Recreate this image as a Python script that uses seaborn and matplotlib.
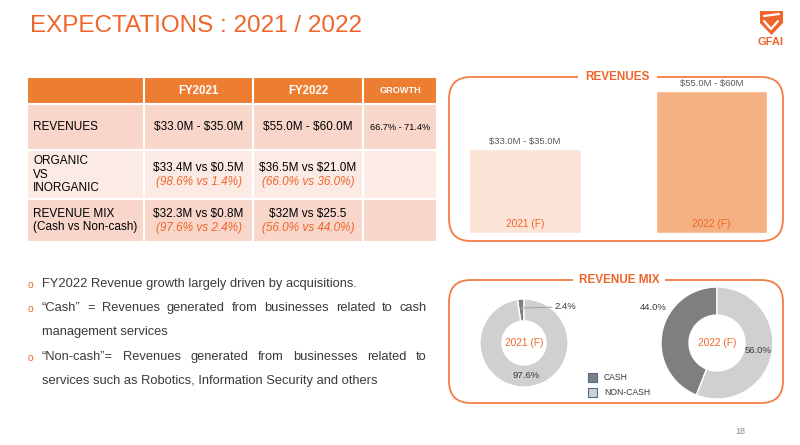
import matplotlib
matplotlib.use("Agg")
import matplotlib.pyplot as plt
import numpy as np
import pandas as pd
import seaborn as sns
from matplotlib.patches import FancyBboxPatch, Rectangle, Polygon

# ---- data ----
years = ["2021 (F)", "2022 (F)"]
rev_low = [33.0, 55.0]
rev_high = [35.0, 60.0]
rev_labels = ["$33.0M - $35.0M", "$55.0M - $60M"]

mix_labels = ["CASH", "NON-CASH"]
cash_pct = [2.4, 44.0]
noncash_pct = [97.6, 56.0]

table_head = ["", "FY2021", "FY2022", "GROWTH"]
row_labels = ["REVENUES", "ORGANIC\nVS\nINORGANIC", "REVENUE MIX\n(Cash vs Non-cash)"]
fy2021_vals = ["$33.0M - $35.0M", "$33.4M vs $0.5M", "$32.3M vs $0.8M"]
fy2021_pcts = ["", "(98.6% vs 1.4%)", "(97.6% vs 2.4%)"]
fy2022_vals = ["$55.0M - $60.0M", "$36.5M vs $21.0M", "$32M vs $25.5"]
fy2022_pcts = ["", "(66.0% vs 36.0%)", "(56.0% vs 44.0%)"]
growth_vals = ["66.7% - 71.4%", "", ""]

bullet_lines = [
    ("FY2022 Revenue growth largely driven by acquisitions.", True, False),
    ("\u201cCash\u201d = Revenues generated from businesses related to cash", True, True),
    ("management services", False, False),
    ("\u201cNon-cash\u201d= Revenues generated from businesses related to", True, True),
    ("services such as Robotics, Information Security and others", False, False),
]

# ---- style ----
ORANGE = "#F0652B"
BORDER = "#F47C42"
HEAD = "#ED7D31"
BAND_DARK = "#F8D6CA"
BAND_LIGHT = "#FCEBE5"
TEXT = "#3A3A3A"
bar_colors = ["#FBE3D6", "#F4B183"]
mix_colors = ["#7F7F7F", "#D0D0D0"]

sns.set_theme(style="white")
plt.rcParams["font.family"] = ["Liberation Sans", "DejaVu Sans"]
plt.rcParams["text.parse_math"] = False

W, H = 800, 445
fig = plt.figure(figsize=(W / 100, H / 100), dpi=100)
fig.patch.set_facecolor("white")

# background axes in pixel units
bg = fig.add_axes([0, 0, 1, 1])
bg.set_xlim(0, W)
bg.set_ylim(H, 0)
bg.axis("off")


def px_axes(x0, y0, w, h):
    a = fig.add_axes([x0 / W, 1 - (y0 + h) / H, w / W, h / H])
    a.patch.set_alpha(0)
    return a


# title and logo
bg.text(30, 26, "EXPECTATIONS : 2021 / 2022", color=ORANGE, fontsize=17.5,
        va="center", ha="left")
bg.add_patch(Polygon([(760, 11), (783, 11), (783, 23), (771.5, 35), (760, 23)],
                     closed=True, fc=ORANGE, ec="none"))
bg.plot([764, 779], [16, 14], color="white", lw=1.6)
bg.plot([764, 771, 778], [21, 29, 21], color="white", lw=1.6)
bg.text(771, 42, "GFAI", color=ORANGE, fontsize=8, fontweight="bold",
        ha="center", va="center")

# ---- table ----
col_edges = [27, 144, 253, 363, 437]
row_edges = [77, 104, 150, 199, 242]
row_fill = [HEAD, BAND_DARK, BAND_LIGHT, BAND_DARK]
for r in range(4):
    for c in range(4):
        x0, x1 = col_edges[c], col_edges[c + 1]
        y0, y1 = row_edges[r], row_edges[r + 1]
        bg.add_patch(Rectangle((x0, y0), x1 - x0, y1 - y0, fc=row_fill[r],
                               ec="white", lw=1.5))

for c, lab in enumerate(table_head):
    cx = (col_edges[c] + col_edges[c + 1]) / 2
    fs = 6.6 if lab == "GROWTH" else 8.3
    bg.text(cx, 90.5, lab, color="white", fontsize=fs, fontweight="bold",
            ha="center", va="center")

for r in range(3):
    cy = (row_edges[r + 1] + row_edges[r + 2]) / 2
    bg.text(33, cy, row_labels[r], color="black", fontsize=8.5, ha="left",
            va="center", linespacing=1.2)
    for c, vals, pcts in [(1, fy2021_vals, fy2021_pcts), (2, fy2022_vals, fy2022_pcts)]:
        cx = (col_edges[c] + col_edges[c + 1]) / 2
        if pcts[r]:
            bg.text(cx, cy - 7, vals[r], color="black", fontsize=8.5,
                    ha="center", va="center")
            bg.text(cx, cy + 7, pcts[r], color=ORANGE, fontsize=8.5,
                    style="italic", ha="center", va="center")
        else:
            bg.text(cx, cy, vals[r], color="black", fontsize=8.5,
                    ha="center", va="center")
    if growth_vals[r]:
        cx = (col_edges[3] + col_edges[4]) / 2
        bg.text(cx, cy, growth_vals[r], color="black", fontsize=6.6,
                ha="center", va="center")

# ---- bullets (justified lines) ----
renderer = fig.canvas.get_renderer()
line_y = [284, 308, 332, 357, 381]
for (line, has_bullet, justify), y in zip(bullet_lines, line_y):
    if has_bullet:
        bg.text(30, y + 1, "o", color=ORANGE, fontsize=7.5, ha="center", va="center")
    if not justify:
        bg.text(42, y, line, color=TEXT, fontsize=9.3, ha="left", va="center")
        continue
    words = line.split(" ")
    texts = [bg.text(0, y, w, color=TEXT, fontsize=9.3, ha="left", va="center")
             for w in words]
    widths = [t.get_window_extent(renderer).width for t in texts]
    gap = (427 - 42 - sum(widths)) / (len(words) - 1)
    x = 42
    for t, w in zip(texts, widths):
        t.set_x(x)
        x += w + gap

# ---- boxes ----
for (x0, y0, x1, y1), title, (g0, g1) in [
    ((449, 77, 783, 241), "REVENUES", (578, 657)),
    ((449, 280, 783, 403), "REVENUE MIX", (573, 665)),
]:
    bg.add_patch(FancyBboxPatch((x0, y0), x1 - x0, y1 - y0,
                                boxstyle="round,pad=0,rounding_size=22",
                                fc="none", ec=BORDER, lw=1.3))
    bg.add_patch(Rectangle((g0, y0 - 3), g1 - g0, 6, fc="white", ec="none", zorder=2))
    bg.text((g0 + g1) / 2, y0, title, color=ORANGE, fontsize=8.5,
            fontweight="bold", ha="center", va="center", zorder=3)

# ---- revenue bars ----
df = pd.DataFrame({"year": years, "low": rev_low, "high": rev_high})
df["mid"] = (df["low"] + df["high"]) / 2
axb = px_axes(469, 233 - 153.1, 298.4, 153.1)
sns.barplot(data=df, x="year", y="mid", hue="year", palette=bar_colors,
            width=0.6, saturation=1, legend=False, ax=axb)
axb.set_xlim(-0.3, 1.3)
axb.set_ylim(0, 62)
for cont, lab in zip(axb.containers, rev_labels):
    axb.bar_label(cont, labels=[lab], padding=2, fontsize=6.8, color="#595959")
for i, yr in enumerate(years):
    axb.annotate(yr, (i, 0), xytext=(0, 3), textcoords="offset points",
                 ha="center", va="bottom", color=ORANGE, fontsize=7.3)
axb.set_xticks([])
axb.set_yticks([])
axb.set_xlabel("")
axb.set_ylabel("")
sns.despine(ax=axb, left=True, bottom=True)

# ---- revenue mix donuts ----
donuts = [(524, 343, 44), (717, 343, 56)]
for i, (cx, cy, rad) in enumerate(donuts):
    axp = px_axes(cx - rad, cy - rad, 2 * rad, 2 * rad)
    vals = [cash_pct[i], noncash_pct[i]]
    axp.pie(vals, colors=mix_colors, startangle=90, counterclock=True,
            wedgeprops=dict(width=0.5, edgecolor="white", linewidth=1))
    axp.set_xlim(-1, 1)
    axp.set_ylim(-1, 1)
    axp.set_aspect("equal", adjustable="box")
    axp.axis("off")
    axp.text(0, 0, years[i], color=ORANGE, fontsize=7.3, ha="center", va="center")
    # angles of wedge centres
    a_cash = np.deg2rad(90 + vals[0] * 3.6 / 2)
    a_non = np.deg2rad(90 + vals[0] * 3.6 + vals[1] * 3.6 / 2)
    axp.text(0.75 * np.cos(a_non), 0.75 * np.sin(a_non), f"{vals[1]:.1f}%",
             color=TEXT, fontsize=6.8, ha="center", va="center")
    if i == 0:
        axp.annotate(f"{vals[0]:.1f}%", xy=(0.8 * np.cos(a_cash), 0.8 * np.sin(a_cash)),
                     xytext=(0.70, 0.82), color=TEXT, fontsize=6.8,
                     ha="left", va="center",
                     arrowprops=dict(arrowstyle="-", color="#A6A6A6", lw=0.8,
                                     shrinkA=0, shrinkB=0))
    else:
        axp.text(-1.14, 0.64, f"{vals[0]:.1f}%", color=TEXT, fontsize=6.8,
                 ha="center", va="center")

# legend
for j, (lab, col) in enumerate(zip(mix_labels, mix_colors)):
    y = 377.5 + 15 * j
    bg.add_patch(Rectangle((588, y - 4.5), 9, 9, fc=col, ec="#4F6C8E", lw=0.8))
    bg.text(604, y, lab, color=TEXT, fontsize=6.2, ha="left", va="center")

# page number
bg.text(740, 431, "18", color="#8C8C8C", fontsize=6.5, ha="center", va="center")

fig.savefig("out.png", dpi=100, facecolor="white")
